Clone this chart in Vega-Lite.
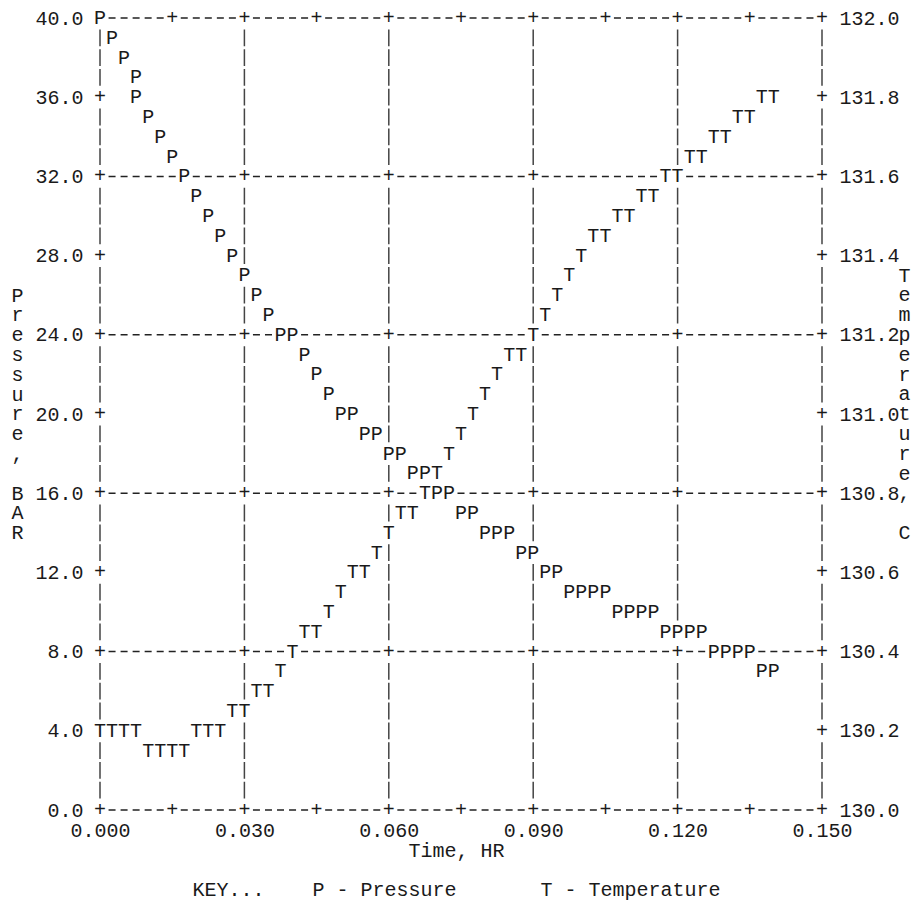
{
  "$schema": "https://vega.github.io/schema/vega-lite/v6.json",
  "width": 722,
  "height": 792,
  "autosize": {"type": "none"},
  "padding": {"left": 100, "top": 18, "right": 101, "bottom": 93},
  "background": "white",
  "config": {
    "view": {"stroke": null},
    "font": "Liberation Mono",
    "axis": {
      "domain": false, "ticks": false, "tickSize": 0, "grid": false,
      "labelFont": "Liberation Mono", "labelFontSize": 20, "labelColor": "#1a1a1a",
      "titleFont": "Liberation Mono", "titleFontSize": 20, "titleFontWeight": "normal", "titleColor": "#1a1a1a",
      "labelOverlap": false, "labelFlush": false, "labelBound": false
    }
  },
  "datasets": {
    "hlines": [{"p": 0}, {"p": 8}, {"p": 16}, {"p": 24}, {"p": 32}, {"p": 40}],
    "vlines": [{"t": 0}, {"t": 0.03}, {"t": 0.06}, {"t": 0.09}, {"t": 0.12}, {"t": 0.15}],
    "plus": [
      {"t": 0, "p": 40}, {"t": 0.015, "p": 40}, {"t": 0.03, "p": 40}, {"t": 0.045, "p": 40}, {"t": 0.06, "p": 40}, {"t": 0.075, "p": 40}, {"t": 0.09, "p": 40}, {"t": 0.105, "p": 40}, {"t": 0.12, "p": 40}, {"t": 0.135, "p": 40}, {"t": 0.15, "p": 40},
      {"t": 0, "p": 0}, {"t": 0.015, "p": 0}, {"t": 0.03, "p": 0}, {"t": 0.045, "p": 0}, {"t": 0.06, "p": 0}, {"t": 0.075, "p": 0}, {"t": 0.09, "p": 0}, {"t": 0.105, "p": 0}, {"t": 0.12, "p": 0}, {"t": 0.135, "p": 0}, {"t": 0.15, "p": 0},
      {"t": 0, "p": 8}, {"t": 0.03, "p": 8}, {"t": 0.06, "p": 8}, {"t": 0.09, "p": 8}, {"t": 0.12, "p": 8}, {"t": 0.15, "p": 8},
      {"t": 0, "p": 16}, {"t": 0.03, "p": 16}, {"t": 0.06, "p": 16}, {"t": 0.09, "p": 16}, {"t": 0.12, "p": 16}, {"t": 0.15, "p": 16},
      {"t": 0, "p": 24}, {"t": 0.03, "p": 24}, {"t": 0.06, "p": 24}, {"t": 0.09, "p": 24}, {"t": 0.12, "p": 24}, {"t": 0.15, "p": 24},
      {"t": 0, "p": 32}, {"t": 0.03, "p": 32}, {"t": 0.06, "p": 32}, {"t": 0.09, "p": 32}, {"t": 0.12, "p": 32}, {"t": 0.15, "p": 32},
      {"t": 0, "p": 4}, {"t": 0.15, "p": 4}, {"t": 0, "p": 12}, {"t": 0.15, "p": 12}, {"t": 0, "p": 20}, {"t": 0.15, "p": 20}, {"t": 0, "p": 28}, {"t": 0.15, "p": 28}, {"t": 0, "p": 36}, {"t": 0.15, "p": 36}
    ],
    "pressure": [
      {"t": 0, "p": 40}, {"t": 0.0025, "p": 39}, {"t": 0.005, "p": 38}, {"t": 0.0075, "p": 37}, {"t": 0.0075, "p": 36},
      {"t": 0.01, "p": 35}, {"t": 0.0125, "p": 34}, {"t": 0.015, "p": 33}, {"t": 0.0175, "p": 32}, {"t": 0.02, "p": 31},
      {"t": 0.0225, "p": 30}, {"t": 0.025, "p": 29}, {"t": 0.0275, "p": 28}, {"t": 0.03, "p": 27}, {"t": 0.0325, "p": 26},
      {"t": 0.035, "p": 25}, {"t": 0.0375, "p": 24}, {"t": 0.04, "p": 24}, {"t": 0.0425, "p": 23}, {"t": 0.045, "p": 22},
      {"t": 0.0475, "p": 21}, {"t": 0.05, "p": 20}, {"t": 0.0525, "p": 20}, {"t": 0.055, "p": 19}, {"t": 0.0575, "p": 19},
      {"t": 0.06, "p": 18}, {"t": 0.0625, "p": 18}, {"t": 0.065, "p": 17}, {"t": 0.0675, "p": 17}, {"t": 0.07, "p": 16},
      {"t": 0.0725, "p": 16}, {"t": 0.075, "p": 15}, {"t": 0.0775, "p": 15}, {"t": 0.08, "p": 14}, {"t": 0.0825, "p": 14},
      {"t": 0.085, "p": 14}, {"t": 0.0875, "p": 13}, {"t": 0.09, "p": 13}, {"t": 0.0925, "p": 12}, {"t": 0.095, "p": 12},
      {"t": 0.0975, "p": 11}, {"t": 0.1, "p": 11}, {"t": 0.1025, "p": 11}, {"t": 0.105, "p": 11}, {"t": 0.1075, "p": 10},
      {"t": 0.11, "p": 10}, {"t": 0.1125, "p": 10}, {"t": 0.115, "p": 10}, {"t": 0.1175, "p": 9}, {"t": 0.12, "p": 9},
      {"t": 0.1225, "p": 9}, {"t": 0.125, "p": 9}, {"t": 0.1275, "p": 8}, {"t": 0.13, "p": 8}, {"t": 0.1325, "p": 8},
      {"t": 0.135, "p": 8}, {"t": 0.1375, "p": 7}, {"t": 0.14, "p": 7}
    ],
    "temperature": [
      {"t": 0, "temp": 130.2}, {"t": 0.0025, "temp": 130.2}, {"t": 0.005, "temp": 130.2}, {"t": 0.0075, "temp": 130.2},
      {"t": 0.01, "temp": 130.15}, {"t": 0.0125, "temp": 130.15}, {"t": 0.015, "temp": 130.15}, {"t": 0.0175, "temp": 130.15},
      {"t": 0.02, "temp": 130.2}, {"t": 0.0225, "temp": 130.2}, {"t": 0.025, "temp": 130.2},
      {"t": 0.0275, "temp": 130.25}, {"t": 0.03, "temp": 130.25},
      {"t": 0.0325, "temp": 130.3}, {"t": 0.035, "temp": 130.3},
      {"t": 0.0375, "temp": 130.35}, {"t": 0.04, "temp": 130.4},
      {"t": 0.0425, "temp": 130.45}, {"t": 0.045, "temp": 130.45},
      {"t": 0.0475, "temp": 130.5}, {"t": 0.05, "temp": 130.55},
      {"t": 0.0525, "temp": 130.6}, {"t": 0.055, "temp": 130.6},
      {"t": 0.0575, "temp": 130.65}, {"t": 0.06, "temp": 130.7},
      {"t": 0.0625, "temp": 130.75}, {"t": 0.065, "temp": 130.75},
      {"t": 0.0675, "temp": 130.8}, {"t": 0.07, "temp": 130.85}, {"t": 0.0725, "temp": 130.9}, {"t": 0.075, "temp": 130.95},
      {"t": 0.0775, "temp": 131.0}, {"t": 0.08, "temp": 131.05}, {"t": 0.0825, "temp": 131.1},
      {"t": 0.085, "temp": 131.15}, {"t": 0.0875, "temp": 131.15},
      {"t": 0.09, "temp": 131.2}, {"t": 0.0925, "temp": 131.25}, {"t": 0.095, "temp": 131.3}, {"t": 0.0975, "temp": 131.35}, {"t": 0.1, "temp": 131.4},
      {"t": 0.1025, "temp": 131.45}, {"t": 0.105, "temp": 131.45},
      {"t": 0.1075, "temp": 131.5}, {"t": 0.11, "temp": 131.5},
      {"t": 0.1125, "temp": 131.55}, {"t": 0.115, "temp": 131.55},
      {"t": 0.1175, "temp": 131.6}, {"t": 0.12, "temp": 131.6},
      {"t": 0.1225, "temp": 131.65}, {"t": 0.125, "temp": 131.65},
      {"t": 0.1275, "temp": 131.7}, {"t": 0.13, "temp": 131.7},
      {"t": 0.1325, "temp": 131.75}, {"t": 0.135, "temp": 131.75},
      {"t": 0.1375, "temp": 131.8}, {"t": 0.14, "temp": 131.8}
    ]
  },
  "layer": [
    {
      "layer": [
        {
          "data": {"name": "hlines"},
          "mark": {"type": "rule", "color": "#222", "strokeWidth": 1.5, "strokeDash": [7, 5.033], "strokeDashOffset": 3.5},
          "encoding": {
            "y": {"field": "p", "type": "quantitative", "scale": {"domain": [0, 40], "nice": false, "zero": false}}
          }
        },
        {
          "data": {"name": "vlines"},
          "mark": {"type": "rule", "color": "#444", "strokeWidth": 1.5, "strokeDash": [16.8, 3], "strokeDashOffset": 8.4},
          "encoding": {
            "x": {"field": "t", "type": "quantitative", "scale": {"domain": [0, 0.15], "nice": false, "zero": false}}
          }
        },
        {
          "data": {"name": "plus"},
          "mark": {"type": "point", "filled": true, "shape": "M-0.6,-1H0.6V1H-0.6Z", "size": 400, "color": "white", "opacity": 1, "strokeWidth": 0},
          "encoding": {
            "x": {"field": "t", "type": "quantitative"},
            "y": {"field": "p", "type": "quantitative"}
          }
        },
        {
          "data": {"name": "plus"},
          "mark": {"type": "text", "text": "+", "font": "Liberation Mono", "fontSize": 20, "color": "#1a1a1a", "align": "center", "baseline": "middle"},
          "encoding": {
            "x": {
              "field": "t", "type": "quantitative",
              "scale": {"domain": [0, 0.15], "nice": false, "zero": false},
              "axis": {
                "orient": "bottom", "values": [0, 0.03, 0.06, 0.09, 0.12, 0.15], "format": ".3f",
                "labelPadding": 20, "labelBaseline": "middle",
                "title": ["Time, HR\u00a0", "\u2800", "KEY...\u00a0\u00a0\u00a0\u00a0P - Pressure\u00a0\u00a0\u00a0\u00a0\u00a0\u00a0\u00a0T - Temperature\u00a0"],
                "titleBaseline": "top", "titleAlign": "center", "titleX": 356, "titleY": 30, "titleLineHeight": 19.8
              }
            },
            "y": {
              "field": "p", "type": "quantitative",
              "scale": {"domain": [0, 40], "nice": false, "zero": false},
              "axis": {
                "orient": "left", "values": [0, 4, 8, 12, 16, 20, 24, 28, 32, 36, 40], "format": ".1f",
                "labelPadding": 17,
                "title": ["P", "r", "e", "s", "s", "u", "r", "e", ",", "\u2800", "B", "A", "R"],
                "titleAngle": 0, "titleAlign": "center", "titleBaseline": "middle",
                "titleX": -83, "titleY": 277, "titleLineHeight": 19.8
              }
            }
          }
        },
        {
          "data": {"name": "pressure"},
          "mark": {"type": "point", "filled": true, "shape": "M-0.6,-1H0.6V1H-0.6Z", "size": 400, "color": "white", "opacity": 1, "strokeWidth": 0},
          "encoding": {
            "x": {"field": "t", "type": "quantitative"},
            "y": {"field": "p", "type": "quantitative"}
          }
        },
        {
          "data": {"name": "pressure"},
          "mark": {"type": "text", "text": "P", "font": "Liberation Mono", "fontSize": 20, "color": "#1a1a1a", "align": "center", "baseline": "middle"},
          "encoding": {
            "x": {"field": "t", "type": "quantitative"},
            "y": {"field": "p", "type": "quantitative"}
          }
        }
      ]
    },
    {
      "data": {"name": "temperature"},
      "layer": [
        {
          "mark": {"type": "point", "filled": true, "shape": "M-0.6,-1H0.6V1H-0.6Z", "size": 400, "color": "white", "opacity": 1, "strokeWidth": 0},
          "encoding": {
            "x": {"field": "t", "type": "quantitative"},
            "y": {"field": "temp", "type": "quantitative"}
          }
        },
        {
          "mark": {"type": "text", "text": "T", "font": "Liberation Mono", "fontSize": 20, "color": "#1a1a1a", "align": "center", "baseline": "middle"},
          "encoding": {
            "x": {"field": "t", "type": "quantitative"},
            "y": {
              "field": "temp", "type": "quantitative",
              "scale": {"domain": [130, 132], "nice": false, "zero": false},
              "axis": {
                "orient": "right", "values": [130, 130.2, 130.4, 130.6, 130.8, 131, 131.2, 131.4, 131.6, 131.8, 132], "format": ".1f",
                "labelPadding": 17,
                "title": ["T", "e", "m", "p", "e", "r", "a", "t", "u", "r", "e", ",", "\u2800", "C"],
                "titleAngle": 0, "titleAlign": "center", "titleBaseline": "middle",
                "titleX": 82, "titleY": 257, "titleLineHeight": 19.8
              }
            }
          }
        }
      ]
    }
  ],
  "resolve": {"scale": {"y": "independent"}}
}
